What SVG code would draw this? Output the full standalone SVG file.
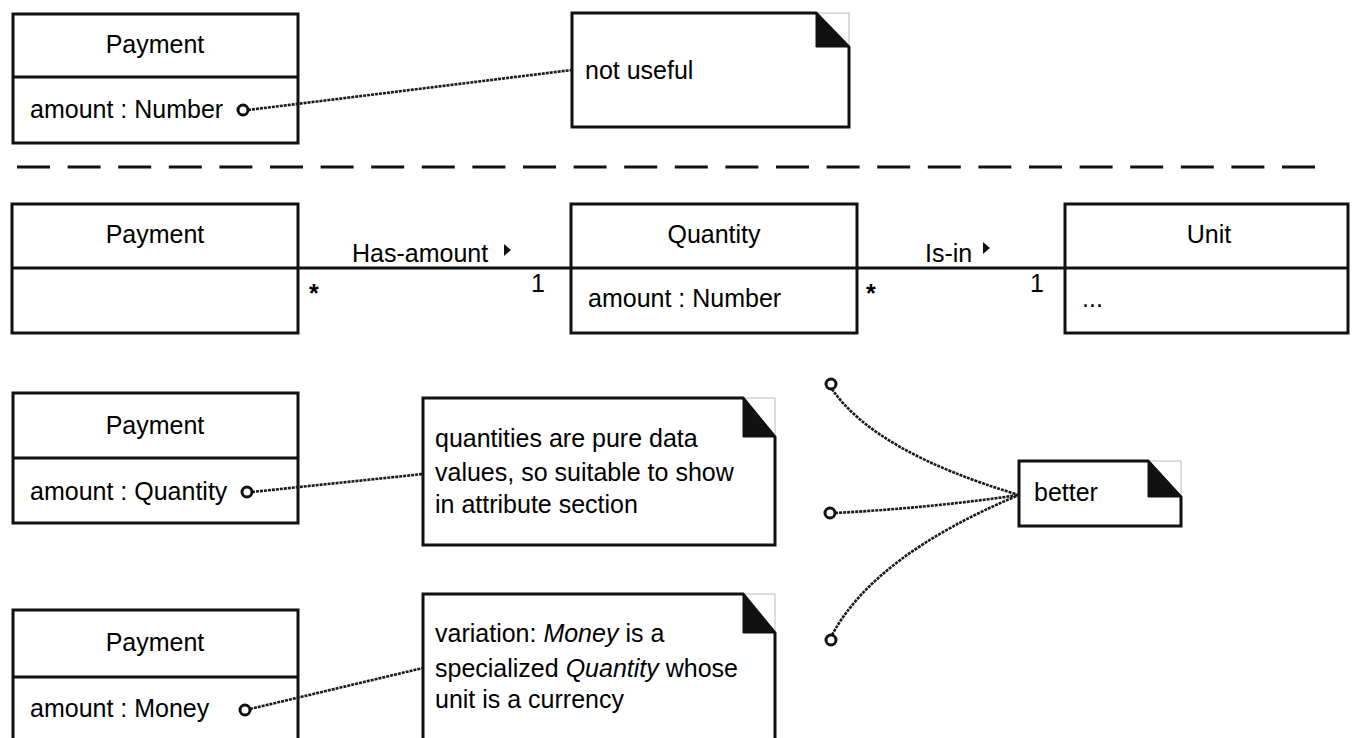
<svg xmlns="http://www.w3.org/2000/svg" width="1354" height="738" viewBox="0 0 1354 738">
  <style>
    text { font-family: "Liberation Sans", Arial, sans-serif; font-size: 25px; fill: #000; }
    .mid { text-anchor: middle; }
    .box { fill: #fff; stroke: #111; stroke-width: 3; }
    .div { stroke: #111; stroke-width: 3; }
    .note { fill: #fff; stroke: #111; stroke-width: 3; stroke-linejoin: miter; }
    .ear { fill: #111; stroke: #111; stroke-width: 1; }
    .corner { fill: none; stroke: #bbb; stroke-width: 1; }
    .assoc { stroke: #111; stroke-width: 3; fill: none; }
    .anchor { stroke: #1a1a1a; stroke-width: 2.6; stroke-dasharray: 3 1; fill: none; }
    .port { fill: #fff; stroke: #111; stroke-width: 3; }
    .sep { stroke: #111; stroke-width: 3; stroke-dasharray: 33 17.6; }
    .it { font-style: italic; }
    .mult { font-weight: bold; }
  </style>

  <!-- top variant: attribute typed as a plain number -->
  <g id="payment-number">
    <rect class="box" x="13" y="14" width="285" height="129"/>
    <line class="div" x1="13" y1="77" x2="298" y2="77"/>
    <text class="mid" x="155" y="53">Payment</text>
    <text x="30" y="118">amount : Number</text>
  </g>

  <g id="note-not-useful">
    <path class="corner" d="M816,13 H849 V47"/>
    <path class="note" d="M572,13 H816 L849,47 V127 H572 Z"/>
    <path class="ear" d="M816,13 V47 H849 Z"/>
    <text x="585" y="79">not useful</text>
  </g>

  <!-- separator between the two halves -->
  <line class="sep" x1="17" y1="167" x2="1316" y2="167"/>

  <!-- association chain Payment - Quantity - Unit -->
  <g id="payment-assoc">
    <rect class="box" x="12" y="204" width="286" height="129"/>
    <line class="div" x1="12" y1="268" x2="298" y2="268"/>
    <text class="mid" x="155" y="243">Payment</text>
  </g>

  <g id="quantity">
    <rect class="box" x="571" y="204" width="286" height="129"/>
    <line class="div" x1="571" y1="268" x2="857" y2="268"/>
    <text class="mid" x="714" y="243">Quantity</text>
    <text x="588" y="307">amount : Number</text>
  </g>

  <g id="unit">
    <rect class="box" x="1065" y="204" width="283" height="129"/>
    <line class="div" x1="1065" y1="268" x2="1348" y2="268"/>
    <text class="mid" x="1209" y="243">Unit</text>
    <text x="1082" y="307">...</text>
  </g>

  <!-- middle-lower variant: attribute typed as Quantity -->
  <g id="payment-quantity">
    <rect class="box" x="13" y="393" width="285" height="130"/>
    <line class="div" x1="13" y1="458" x2="298" y2="458"/>
    <text class="mid" x="155" y="434">Payment</text>
    <text x="30" y="500">amount : Quantity</text>
  </g>

  <g id="note-quantities">
    <path class="corner" d="M743,398 H775 V437"/>
    <path class="note" d="M423,398 H743 L775,437 V545 H423 Z"/>
    <path class="ear" d="M743,398 V437 H775 Z"/>
    <text x="435" y="447">quantities are pure data</text>
    <text x="435" y="481">values, so suitable to show</text>
    <text x="435" y="513">in attribute section</text>
  </g>

  <!-- bottom variant: attribute typed as Money -->
  <g id="payment-money">
    <rect class="box" x="13" y="610" width="285" height="140"/>
    <line class="div" x1="13" y1="677" x2="298" y2="677"/>
    <text class="mid" x="155" y="651">Payment</text>
    <text x="30" y="717">amount : Money</text>
  </g>

  <g id="note-money">
    <path class="corner" d="M743,594 H775 V633"/>
    <path class="note" d="M423,594 H743 L775,633 V750 H423 Z"/>
    <path class="ear" d="M743,594 V633 H775 Z"/>
    <text x="435" y="642">variation: <tspan class="it">Money</tspan> is a</text>
    <text x="435" y="677">specialized <tspan class="it">Quantity</tspan> whose</text>
    <text x="435" y="708">unit is a currency</text>
  </g>

  <g id="note-better">
    <path class="corner" d="M1148,461 H1181 V497"/>
    <path class="note" d="M1019,461 H1148 L1181,497 V526 H1019 Z"/>
    <path class="ear" d="M1148,461 V497 H1181 Z"/>
    <text x="1034" y="501">better</text>
  </g>

  <g id="connectors">
    <!-- associations -->
    <line class="assoc" x1="298" y1="268" x2="571" y2="268"/>
    <text x="352" y="262">Has-amount</text>
    <path d="M504,244 L511,250 L504,256 Z" fill="#111"/>
    <text class="mult" x="309" y="302">*</text>
    <text x="531" y="292">1</text>

    <line class="assoc" x1="857" y1="268" x2="1065" y2="268"/>
    <text x="925" y="262">Is-in</text>
    <path d="M983,242 L990,248 L983,254 Z" fill="#111"/>
    <text class="mult" x="866" y="302">*</text>
    <text x="1030" y="292">1</text>

    <!-- note anchors -->
    <line class="anchor" x1="248" y1="110" x2="572" y2="70"/>
    <circle class="port" cx="243" cy="110" r="5"/>

    <line class="anchor" x1="252" y1="492" x2="423" y2="474"/>
    <circle class="port" cx="247" cy="492" r="5"/>

    <line class="anchor" x1="250" y1="709" x2="423" y2="668"/>
    <circle class="port" cx="245" cy="710" r="5"/>

    <path class="anchor" d="M832,389 Q875,452 1019,495"/>
    <path class="anchor" d="M835,513 Q930,508 1019,495"/>
    <path class="anchor" d="M832,635 Q875,555 1019,495"/>
    <circle class="port" cx="831" cy="384" r="5"/>
    <circle class="port" cx="830" cy="513" r="5"/>
    <circle class="port" cx="831" cy="640" r="5"/>
  </g>
</svg>
